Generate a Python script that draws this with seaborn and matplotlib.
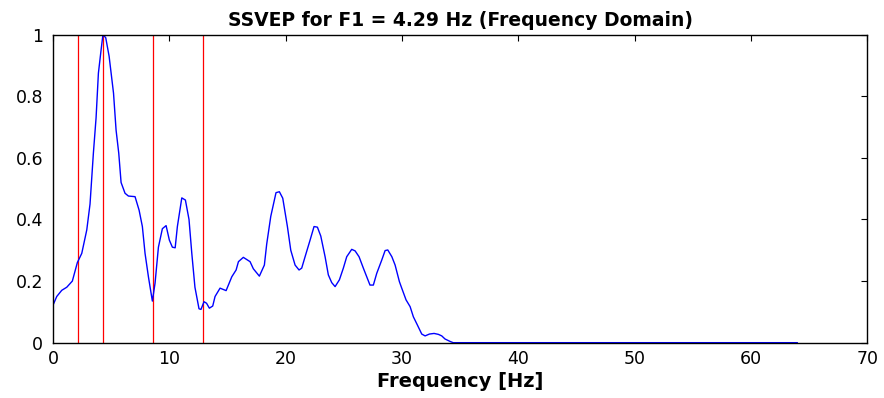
import numpy as np
import pandas as pd
import matplotlib
matplotlib.use("Agg")
import matplotlib.pyplot as plt
import seaborn as sns

# spectrum (normalised amplitude)
freq = [0, 0.32, 0.75, 1.18, 1.66, 2.09, 2.47, 2.9, 3.18, 3.47, 3.7, 3.9, 4.13, 4.29, 4.53,
        4.82, 5.2, 5.42, 5.65, 5.85, 6.19, 6.48, 7.05, 7.4, 7.68, 7.91, 8.2, 8.54, 8.77, 9.06,
        9.4, 9.72, 10.0, 10.26, 10.5, 10.69, 11.07, 11.38, 11.69, 11.93, 12.2, 12.55, 12.72,
        12.98, 13.2, 13.44, 13.73, 13.93, 14.36, 14.88, 15.37, 15.74, 15.94, 16.36, 16.94,
        17.22, 17.74, 18.17, 18.37, 18.72, 19.17, 19.46, 19.75, 20.15, 20.44, 20.81, 21.15,
        21.38, 21.67, 22.1, 22.44, 22.73, 23.02, 23.39, 23.67, 23.96, 24.25, 24.62, 24.96,
        25.25, 25.68, 25.97, 26.31, 26.68, 26.97, 27.25, 27.54, 27.83, 28.26, 28.55, 28.78,
        29.13, 29.41, 29.78, 29.98, 30.35, 30.7, 30.98, 31.33, 31.7, 31.99, 32.36, 32.76,
        33.13, 33.42, 33.7, 34.14, 34.4, 64.0]
amp = [0.122, 0.15, 0.17, 0.18, 0.20, 0.26, 0.29, 0.366, 0.45, 0.616, 0.73, 0.875, 0.95, 1.0,
       0.99, 0.93, 0.81, 0.69, 0.615, 0.52, 0.485, 0.476, 0.474, 0.43, 0.377, 0.29, 0.214,
       0.135, 0.193, 0.31, 0.37, 0.38, 0.333, 0.31, 0.308, 0.377, 0.47, 0.463, 0.40, 0.29,
       0.18, 0.11, 0.108, 0.133, 0.128, 0.112, 0.119, 0.15, 0.177, 0.169, 0.214, 0.236,
       0.263, 0.277, 0.263, 0.24, 0.216, 0.252, 0.32, 0.41, 0.487, 0.49, 0.469, 0.377, 0.30,
       0.252, 0.236, 0.242, 0.279, 0.333, 0.377, 0.375, 0.346, 0.279, 0.22, 0.195, 0.182,
       0.204, 0.242, 0.279, 0.303, 0.298, 0.279, 0.242, 0.214, 0.187, 0.187, 0.225, 0.268,
       0.299, 0.301, 0.279, 0.252, 0.198, 0.177, 0.139, 0.117, 0.084, 0.057, 0.028, 0.022,
       0.028, 0.03, 0.027, 0.022, 0.012, 0.004, 0.0, 0.0]

# F1/2, F1, 2F1, 3F1 markers
f1 = 4.29
harmonics = [f1 / 2, f1, 2 * f1, 3 * f1]

df = pd.DataFrame({"freq": freq, "amp": amp})

sns.set_style("white")
plt.rcParams["font.family"] = ["DejaVu Sans"]
plt.rcParams["text.color"] = "black"
plt.rcParams["axes.labelcolor"] = "black"

fig = plt.figure(figsize=(8.84, 3.98), dpi=100)
ax = fig.add_axes([0.06, 0.139, 0.921, 0.774])

for h in harmonics:
    ax.axvline(h, ymin=0, ymax=1, color="red", lw=0.9)
sns.lineplot(data=df, x="freq", y="amp", color="blue", lw=1.0, ax=ax)

ax.set_xlim(0, 70)
ax.set_ylim(0, 1)
ax.set_xticks(range(0, 71, 10))
ax.set_yticks([0, 0.2, 0.4, 0.6, 0.8, 1])
ax.set_yticklabels(["0", "0.2", "0.4", "0.6", "0.8", "1"])
ax.tick_params(direction="in", length=4, width=0.8, top=True, right=True,
               labelsize=12.5, colors="black")
ax.tick_params(axis="x", pad=5)
ax.tick_params(axis="y", pad=7)
for s in ax.spines.values():
    s.set_color("black")
    s.set_linewidth(1.0)

ax.set_title("SSVEP for F1 = 4.29 Hz (Frequency Domain)", fontsize=13.5,
             fontweight="bold", pad=6, color="black")
ax.set_xlabel("Frequency [Hz]", fontsize=14, fontweight="bold", labelpad=3, color="black")
ax.set_ylabel("")

fig.savefig("out.png", dpi=100)
